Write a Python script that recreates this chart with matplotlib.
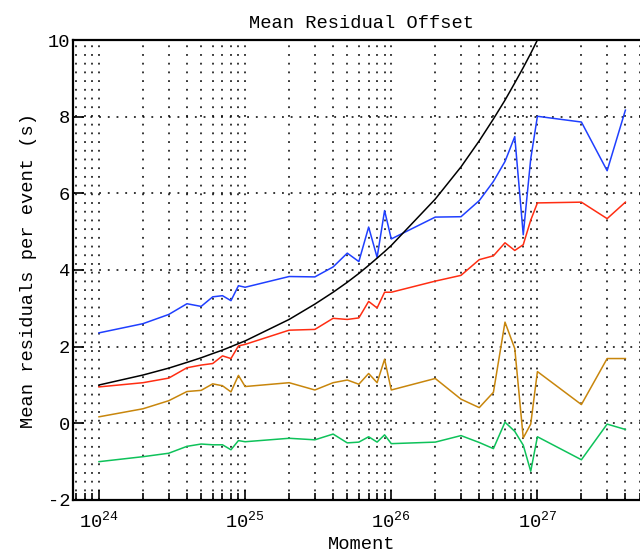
import matplotlib
matplotlib.use("Agg")
import matplotlib.pyplot as plt
from matplotlib.ticker import LogLocator, LogFormatterMathtext, FixedLocator, NullFormatter

moment = [1e24, 2e24, 3e24, 4e24, 5e24, 6e24, 7e24, 8e24, 9e24,
          1e25, 2e25, 3e25, 4e25, 5e25, 6e25, 7e25, 8e25, 9e25,
          1e26, 2e26, 3e26, 4e26, 5e26, 6e26, 7e26, 8e26, 9e26,
          1e27, 2e27, 3e27, 4e27]

blue = [2.36, 2.60, 2.84, 3.12, 3.05, 3.30, 3.33, 3.20, 3.59,
        3.55, 3.83, 3.82, 4.08, 4.44, 4.22, 5.12, 4.33, 5.55,
        4.81, 5.38, 5.39, 5.81, 6.31, 6.83, 7.48, 4.92, 6.90,
        8.01, 7.86, 6.59, 8.17]

red = [0.95, 1.06, 1.18, 1.45, 1.52, 1.56, 1.76, 1.69, 2.02,
       2.06, 2.43, 2.45, 2.74, 2.71, 2.75, 3.18, 3.01, 3.42,
       3.42, 3.71, 3.86, 4.27, 4.37, 4.71, 4.51, 4.66, 5.30,
       5.75, 5.77, 5.34, 5.77]

orange = [0.17, 0.38, 0.59, 0.83, 0.86, 1.03, 0.98, 0.82, 1.25,
          0.96, 1.06, 0.87, 1.06, 1.13, 1.02, 1.30, 1.06, 1.67,
          0.87, 1.17, 0.63, 0.41, 0.81, 2.64, 1.95, -0.38, -0.02,
          1.35, 0.49, 1.69, 1.69]

green = [-1.00, -0.87, -0.78, -0.60, -0.54, -0.56, -0.56, -0.69, -0.45,
         -0.48, -0.39, -0.43, -0.28, -0.51, -0.49, -0.35, -0.49, -0.30,
         -0.53, -0.49, -0.32, -0.50, -0.66, 0.03, -0.21, -0.57, -1.25,
         -0.35, -0.95, -0.02, -0.16]

curve_moment = moment[:28]
curve = [1.00, 1.26, 1.44, 1.59, 1.71, 1.82, 1.91, 2.00, 2.08,
         2.15, 2.71, 3.11, 3.42, 3.68, 3.91, 4.12, 4.31, 4.48,
         4.64, 5.85, 6.69, 7.37, 7.94, 8.43, 8.88, 9.28, 9.65,
         10.0]

y_ticks = [-2, 0, 2, 4, 6, 8, 10]

FONT = "Liberation Mono"
plt.rcParams['font.family'] = [FONT, 'DejaVu Sans']
plt.rcParams['mathtext.fontset'] = 'custom'
plt.rcParams['mathtext.rm'] = FONT
plt.rcParams['mathtext.it'] = FONT
plt.rcParams['mathtext.bf'] = FONT
plt.rcParams['mathtext.default'] = 'regular'
plt.rcParams['axes.unicode_minus'] = False

fig = plt.figure(figsize=(6.4, 5.54), dpi=100)
ax = fig.add_axes([73/640, 54/554, (650.6-73)/640, 460/554])

ax.set_xscale('log')
ax.set_xlim(6.64e23, 5.95e27)
ax.set_ylim(-2, 10)

ax.grid(True, which='both', axis='x', color='black', linestyle=(0, (1.2, 4.5)), linewidth=1.1)
ax.grid(True, which='major', axis='y', color='black', linestyle=(0, (1.2, 4.5)), linewidth=1.1)

ax.plot(moment, blue, color='#1f3fff', lw=1.1)
ax.plot(moment, red, color='#ff2d12', lw=1.1)
ax.plot(moment, orange, color='#c8860c', lw=1.1)
ax.plot(moment, green, color='#0ec25a', lw=1.1)
ax.plot(curve_moment, curve, color='black', lw=1.1)

ax.xaxis.set_major_locator(LogLocator(base=10, numticks=10))
ax.xaxis.set_minor_locator(LogLocator(base=10, subs=range(2, 10), numticks=20))
ax.xaxis.set_major_formatter(LogFormatterMathtext())
ax.xaxis.set_minor_formatter(NullFormatter())
ax.yaxis.set_major_locator(FixedLocator(y_ticks))

ax.tick_params(axis='x', which='major', direction='in', length=7, width=1.2, labelsize=13.5, pad=8, top=False)
ax.tick_params(axis='x', which='minor', direction='in', length=5, width=1.2, top=False)
ax.tick_params(axis='y', which='major', direction='in', length=8, width=1.2, labelsize=13.5, pad=2, right=False)

for s in ['left', 'bottom', 'top']:
    ax.spines[s].set_linewidth(1.6)
ax.spines['right'].set_visible(False)

ax.set_title('Mean Residual Offset', fontsize=13.5, pad=9)
ax.set_xlabel('Moment', fontsize=13.5, labelpad=3)
ax.set_ylabel('Mean residuals per event (s)', fontsize=13.5, labelpad=8)

fig.savefig('out.png', dpi=100)
